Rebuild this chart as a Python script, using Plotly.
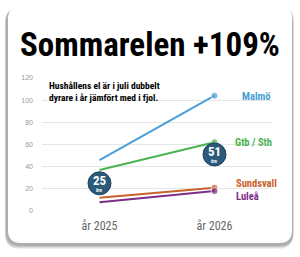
import plotly.graph_objects as go

years = ["år 2025", "år 2026"]
cities = ["Malmö", "Gtb / Sth", "Sundsvall", "Luleå"]
malmo = [46, 104]
gtb_sth = [37, 62]
sundsvall = [12, 21]
lulea = [8, 18]
series = [malmo, gtb_sth, sundsvall, lulea]
colors = ["#4a9fd8", "#4cb353", "#c8622a", "#7a2e86"]
average = [25, 51]
avg_text = ["25", "51"]
y_ticks = [0, 20, 40, 60, 80, 100, 120]

W, H = 300, 257
ML, MR, MT, MB = 42, 28, 78, 46
PW, PH = W - ML - MR, H - MT - MB
NARROW = "Liberation Sans Narrow, Roboto Condensed, DejaVu Sans Condensed, sans-serif"


def px(x):
    return (x - ML) / PW


def py(y):
    return (H - MB - y) / PH


def rrect(x0, y0, x1, y1, r):
    pts = [
        f"M {px(x0 + r)},{py(y0)}",
        f"L {px(x1 - r)},{py(y0)}",
        f"Q {px(x1)},{py(y0)} {px(x1)},{py(y0 + r)}",
        f"L {px(x1)},{py(y1 - r)}",
        f"Q {px(x1)},{py(y1)} {px(x1 - r)},{py(y1)}",
        f"L {px(x0 + r)},{py(y1)}",
        f"Q {px(x0)},{py(y1)} {px(x0)},{py(y1 - r)}",
        f"L {px(x0)},{py(y0 + r)}",
        f"Q {px(x0)},{py(y0)} {px(x0 + r)},{py(y0)}",
        "Z",
    ]
    return " ".join(pts)


shapes = []
for dx, dy, op in [(-1, 5, 0.06), (-1, 4, 0.08), (-1, 3, 0.10), (0, 2, 0.12)]:
    shapes.append(dict(type="path", xref="paper", yref="paper", layer="below",
                       path=rrect(8 + dx - 2, 6 + dy - 1, 292 + dx + 2, 243 + dy + 1, 14),
                       fillcolor=f"rgba(0,0,0,{op})", line=dict(width=0)))
shapes.append(dict(type="path", xref="paper", yref="paper", layer="below",
                   path=rrect(8, 6, 292, 243, 13), fillcolor="white",
                   line=dict(width=0)))

fig = go.Figure()
for name, vals, col in zip(cities, series, colors):
    fig.add_trace(go.Scatter(
        x=years, y=vals, mode="lines+markers", name=name,
        line=dict(color=col, width=2),
        marker=dict(size=[0, 7], color=col),
        cliponaxis=False, showlegend=False))

fig.add_trace(go.Scatter(
    x=years, y=average, mode="markers",
    marker=dict(size=23, color="#2c5a7b", line=dict(color="#1f4460", width=1)),
    cliponaxis=False, showlegend=False))

annotations = []
for xv, yv, t in zip(years, average, avg_text):
    annotations.append(dict(x=xv, y=yv, text=f"<b>{t}</b>", showarrow=False,
                            yshift=3, font=dict(family=NARROW, size=13, color="white")))
    annotations.append(dict(x=xv, y=yv, text="<b>öre</b>", showarrow=False,
                            yshift=-7.5, font=dict(family=NARROW, size=4.5, color="white")))

label_pos = [(240, 96), (233, 142), (234, 183), (234, 196)]
for name, col, (lx, ly) in zip(cities, colors, label_pos):
    annotations.append(dict(xref="paper", yref="paper", x=px(lx), y=py(ly),
                            xanchor="left", yanchor="middle", showarrow=False,
                            text=f"<b>{name}</b>",
                            font=dict(family=NARROW, size=10.5, color=col)))

annotations.append(dict(xref="paper", yref="paper", x=px(150), y=py(45),
                        xanchor="center", yanchor="middle", showarrow=False,
                        text="<b>Sommarelen +109%</b>",
                        font=dict(family=NARROW, size=33, color="black")))
annotations.append(dict(xref="paper", yref="paper", x=px(47), y=py(78),
                        xanchor="left", yanchor="top", showarrow=False, align="left",
                        text="<b>Hushållens el är i juli dubbelt<br>dyrare i år jämfört med i fjol.</b>",
                        font=dict(family=NARROW, size=9.5, color="black")))

fig.update_layout(
    width=W, height=H,
    margin=dict(l=ML, r=MR, t=MT, b=MB),
    paper_bgcolor="white", plot_bgcolor="rgba(0,0,0,0)",
    shapes=shapes, annotations=annotations,
    xaxis=dict(range=[-0.5, 1.5], showgrid=False, zeroline=False, showline=False,
               tickfont=dict(family=NARROW, size=12, color="#666"),
               ticklabelstandoff=6, fixedrange=True),
    yaxis=dict(range=[0, 120], tickvals=y_ticks, showgrid=True, gridcolor="#e6e6e6",
               gridwidth=1, zeroline=False, showline=False,
               tickfont=dict(family="Liberation Sans, Arial", size=7, color="#999"),
               ticklabelstandoff=8, fixedrange=True),
)

fig.write_html("out.html")
